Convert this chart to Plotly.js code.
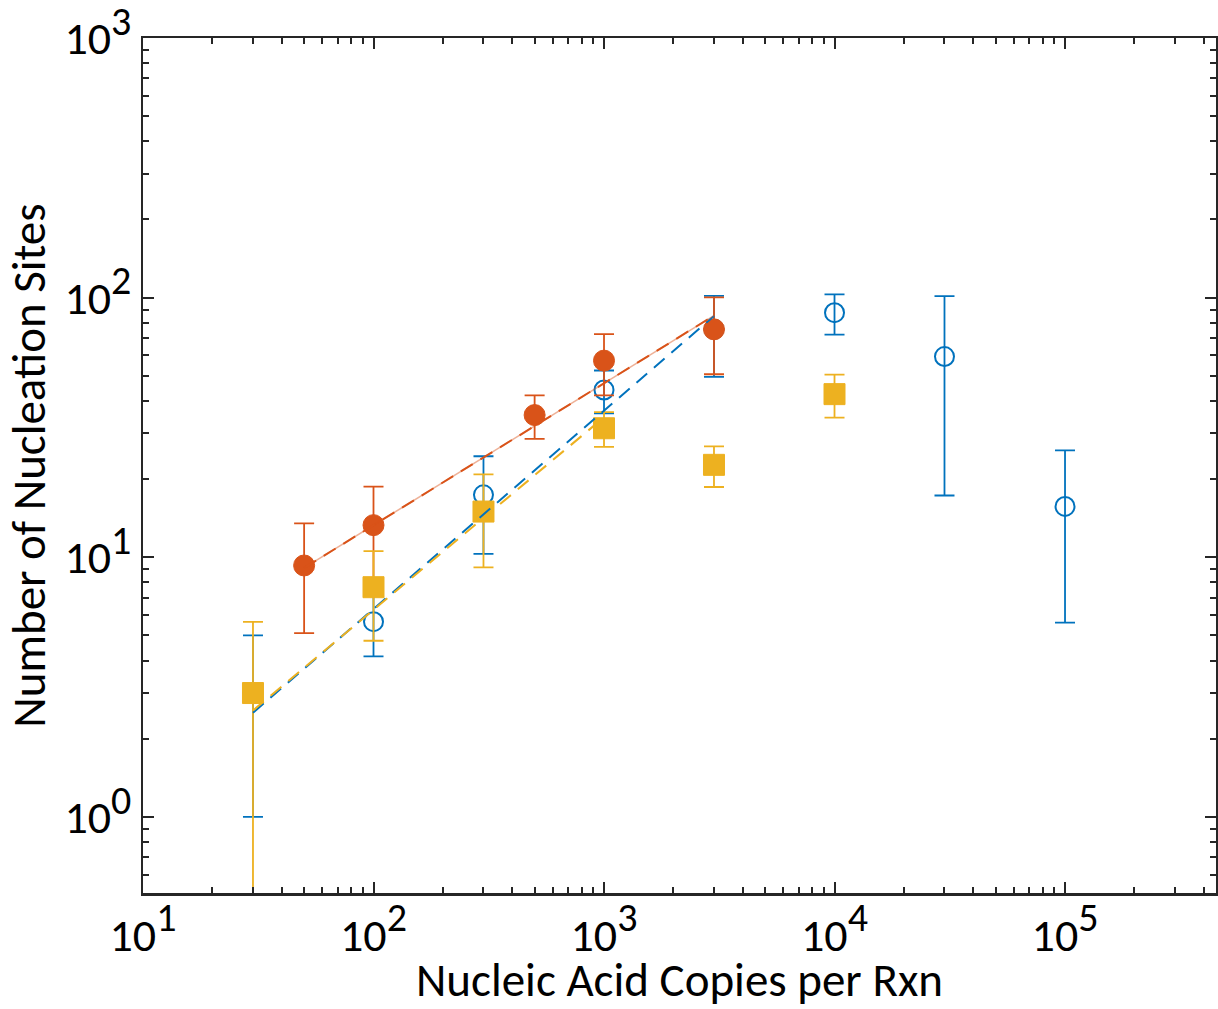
<!DOCTYPE html>
<html>
<head>
<meta charset="utf-8">
<script src="https://cdn.plot.ly/plotly-3.0.1.min.js"></script>
<style>
  html, body { margin: 0; padding: 0; background: #fff; }
  #chart { width: 1218px; height: 1009px; }
</style>
</head>
<body>
<div id="chart"></div>
<script>
// ---- data ----
const blueX = [30, 100, 300, 1000, 3000, 10000, 30000, 100000];
const blueY = [3.0, 5.65, 17.4, 44.1, 75.5, 87.5, 59.3, 15.7];
const blueErr = [2.0, 1.5, 7.1, 8.3, 26, 15.5, 42, 10.1];

const orangeX = [50, 100, 500, 1000, 3000];
const orangeY = [9.3, 13.3, 35.3, 57.2, 75.5];
const orangeErr = [4.2, 5.4, 6.7, 15.2, 24.8];

const yellowX = [30, 100, 300, 1000, 3000, 10000];
const yellowY = [3.0, 7.67, 15.0, 31.4, 22.7, 42.5];
const yellowErr = [2.64, 2.9, 5.85, 4.8, 4.05, 8.0];

const fitBlueX = [30, 3000];
const fitBlueY = [2.52, 85];
const fitOrangeX = [50, 3000];
const fitOrangeY = [9.1, 85.3];
const fitYellowX = [30, 1000];
const fitYellowY = [2.57, 34.6];

const xTickVals = [10, 100, 1000, 10000, 100000];
const xTickExp = ['1', '2', '3', '4', '5'];
const yTickVals = [1, 10, 100, 1000];
const yTickExp = ['0', '1', '2', '3'];

const xTitle = 'Nucleic Acid Copies per Rxn';
const yTitle = 'Number of Nucleation Sites';

// ---- styling ----
const BLUE = '#0072BD', ORANGE = '#D95319', YELLOW = '#EDB120';
const AXC = '#262626';
const FONT = 'Carlito, Lato, sans-serif';
const TICK_SIZE = 46, SUP_SIZE = 40, TITLE_SIZE = 47;

function powLabel(e) {
  return '10<sup><span style="font-size:' + SUP_SIZE + 'px">' + e + '</span></sup>';
}

function minorVals(lo, hi) {
  const v = [];
  for (let d = lo; d <= hi; d++) {
    for (let k = 2; k <= 9; k++) v.push(k * Math.pow(10, d));
  }
  return v;
}

function errBar(arr, color) {
  return { type: 'data', array: arr, symmetric: true, color: color, thickness: 1.8, width: 10 };
}

const traces = [
  { x: blueX, y: blueY, type: 'scatter', mode: 'markers',
    marker: { symbol: 'circle-open', size: 19, color: BLUE, line: { color: BLUE, width: 2 } },
    error_y: errBar(blueErr, BLUE) },
  { x: orangeX, y: orangeY, type: 'scatter', mode: 'markers',
    marker: { symbol: 'circle', size: 21, color: ORANGE, line: { color: ORANGE, width: 1 } },
    error_y: errBar(orangeErr, ORANGE) },
  { x: yellowX, y: yellowY, type: 'scatter', mode: 'markers',
    marker: { symbol: 'square', size: 21, color: YELLOW, line: { color: YELLOW, width: 1 } },
    error_y: errBar(yellowErr, YELLOW) },
  { x: fitBlueX, y: fitBlueY, type: 'scatter', mode: 'lines',
    line: { color: BLUE, width: 2, dash: '14px,9px' } },
  { x: fitOrangeX, y: fitOrangeY, type: 'scatter', mode: 'lines',
    line: { color: 'rgba(217,83,25,0.45)', width: 1.6 } },
  { x: fitOrangeX, y: fitOrangeY, type: 'scatter', mode: 'lines',
    line: { color: ORANGE, width: 2, dash: '14px,9px' } },
  { x: fitYellowX, y: fitYellowY, type: 'scatter', mode: 'lines',
    line: { color: YELLOW, width: 2, dash: '14px,9px' } }
];

const axisCommon = {
  type: 'log',
  showgrid: false,
  zeroline: false,
  showline: true,
  linecolor: AXC,
  linewidth: 2.5,
  mirror: 'allticks',
  ticks: 'inside',
  ticklen: 11,
  tickwidth: 2,
  tickcolor: AXC,
  tickmode: 'array',
  ticklabeloverflow: 'allow',
  tickfont: { family: FONT, size: TICK_SIZE, color: '#000' }
};

const layout = {
  width: 1218,
  height: 1009,
  margin: { l: 143, r: 2, t: 38, b: 116 },
  paper_bgcolor: '#fff',
  plot_bgcolor: '#fff',
  showlegend: false,
  font: { family: FONT, color: '#000' },
  xaxis: Object.assign({}, axisCommon, {
    range: [1, 5.655],
    tickvals: xTickVals,
    ticktext: xTickExp.map(powLabel),
    minor: { tickmode: 'array', tickvals: minorVals(1, 5), ticks: 'inside', ticklen: 6, tickwidth: 2, tickcolor: AXC, showgrid: false },
    title: { text: xTitle, font: { family: FONT, size: TITLE_SIZE, color: '#000' }, standoff: 12 }
  }),
  yaxis: Object.assign({}, axisCommon, {
    range: [-0.293, 3],
    tickvals: yTickVals,
    ticktext: yTickExp.map(powLabel),
    minor: { tickmode: 'array', tickvals: minorVals(-1, 2), ticks: 'inside', ticklen: 6, tickwidth: 2, tickcolor: AXC, showgrid: false },
    title: { text: yTitle, font: { family: FONT, size: TITLE_SIZE, color: '#000' }, standoff: 8 }
  })
};

Plotly.newPlot('chart', traces, layout, { displayModeBar: false, staticPlot: true });
</script>
</body>
</html>
